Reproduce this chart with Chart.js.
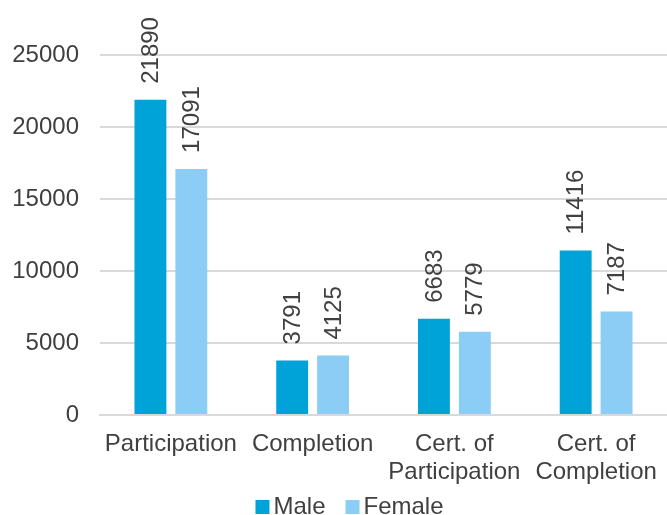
<!DOCTYPE html>
<html>
<head>
<meta charset="utf-8">
<script src="https://cdn.jsdelivr.net/npm/chart.js@4/dist/chart.umd.min.js"></script>
<style>
  html, body { margin: 0; padding: 0; background: #fff; }
  #chart { display: block; }
</style>
</head>
<body>
<canvas id="chart" width="667" height="515"></canvas>
<script>
const categories = ['Participation', 'Completion', ['Cert. of', 'Participation'], ['Cert. of', 'Completion']];
const male = [21890, 3791, 6683, 11416];
const female = [17091, 4125, 5779, 7187];
const yTicks = [0, 5000, 10000, 15000, 20000, 25000];

const textColor = '#404040';
const fontFamily = '"Liberation Sans", Arial, sans-serif';
const font24 = '24px ' + fontFamily;

// vertical value labels above each bar
const barLabels = {
  id: 'barLabels',
  afterDatasetsDraw(chart) {
    const ctx = chart.ctx;
    ctx.save();
    ctx.fillStyle = textColor;
    ctx.font = font24;
    ctx.textAlign = 'left';
    ctx.textBaseline = 'middle';
    chart.data.datasets.forEach((ds, i) => {
      chart.getDatasetMeta(i).data.forEach((bar, j) => {
        ctx.save();
        ctx.translate(bar.x, bar.y - 16);
        ctx.rotate(-Math.PI / 2);
        ctx.fillText(String(ds.data[j]), 0, 1);
        ctx.restore();
      });
    });
    ctx.restore();
  }
};

// compact legend row under the axis labels (square sits close to its text)
const bottomLegend = {
  id: 'bottomLegend',
  afterDraw(chart) {
    const ctx = chart.ctx;
    const box = 14, gap = 4, spacing = 20;
    const y = chart.height - 8;
    ctx.save();
    ctx.font = font24;
    ctx.textBaseline = 'middle';
    ctx.textAlign = 'left';
    const items = chart.data.datasets.map(ds => ({
      text: ds.label, color: ds.backgroundColor, w: ctx.measureText(ds.label).width
    }));
    const total = items.reduce((s, it) => s + box + gap + it.w, 0) + spacing * (items.length - 1);
    let x = chart.width / 2 + 16 - total / 2;
    items.forEach(it => {
      ctx.fillStyle = it.color;
      ctx.fillRect(x, y - box / 2, box, box);
      ctx.fillStyle = textColor;
      ctx.fillText(it.text, x + box + gap, y);
      x += box + gap + it.w + spacing;
    });
    ctx.restore();
  }
};

new Chart(document.getElementById('chart'), {
  type: 'bar',
  data: {
    labels: categories,
    datasets: [
      { label: 'Male', data: male, backgroundColor: '#00A3D8' },
      { label: 'Female', data: female, backgroundColor: '#8BCDF4' }
    ]
  },
  options: {
    responsive: false,
    animation: false,
    categoryPercentage: 0.577,
    barPercentage: 0.78,
    layout: { padding: { top: 55, right: 0, left: 0, bottom: 0 } },
    plugins: {
      legend: { display: false },
      tooltip: { enabled: false }
    },
    scales: {
      x: {
        grid: { display: false },
        border: { color: '#D9D9D9', width: 2 },
        afterFit(scale) { scale.height = 100; },
        ticks: {
          color: textColor,
          font: { size: 24, family: fontFamily, lineHeight: 1.15 },
          maxRotation: 0,
          autoSkip: false,
          padding: 8
        }
      },
      y: {
        min: 0,
        max: 25000,
        afterBuildTicks(scale) { scale.ticks = yTicks.map(v => ({ value: v })); },
        afterFit(scale) { scale.width = 100; },
        grid: { color: '#D9D9D9', lineWidth: 2, drawTicks: false },
        border: { display: false },
        ticks: {
          color: textColor,
          font: { size: 24, family: fontFamily },
          padding: 21,
          callback: v => String(v)
        }
      }
    }
  },
  plugins: [barLabels, bottomLegend]
});
</script>
</body>
</html>
